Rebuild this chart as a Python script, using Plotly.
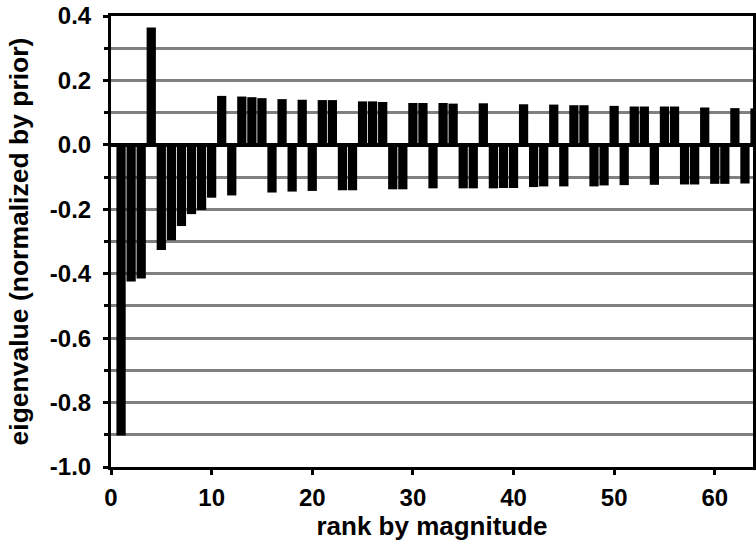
import plotly.graph_objects as go

ranks = list(range(1, 65))
eigenvalues = [
    -0.902, -0.424, -0.415, 0.364, -0.326, -0.296, -0.252, -0.215, -0.202, -0.164,
    0.152, -0.157, 0.150, 0.148, 0.145, -0.148, 0.142, -0.145, 0.140, -0.143,
    0.139, 0.139, -0.141, -0.141, 0.135, 0.135, 0.133, -0.138, -0.138, 0.130,
    0.130, -0.135, 0.130, 0.128, -0.135, -0.135, 0.129, -0.135, -0.134, -0.134,
    0.126, -0.131, -0.129, 0.125, -0.129, 0.123, 0.123, -0.129, -0.126, 0.121,
    -0.125, 0.119, 0.119, -0.124, 0.119, 0.119, -0.123, -0.123, 0.116, -0.121,
    -0.121, 0.114, -0.120, 0.113,
]
x_ticks = [0, 10, 20, 30, 40, 50, 60]
y_ticks = [0.4, 0.2, 0.0, -0.2, -0.4, -0.6, -0.8, -1.0]
y_tick_labels = ["0.4", "0.2", "0.0", "-0.2", "-0.4", "-0.6", "-0.8", "-1.0"]

FONT = "Liberation Sans, Arial, Helvetica, sans-serif"

fig = go.Figure(
    go.Bar(
        x=ranks,
        y=eigenvalues,
        marker=dict(color="black", line=dict(width=0)),
        width=0.92,
    )
)

fig.update_layout(
    width=756,
    height=548,
    margin=dict(l=111, r=3, t=16, b=81),
    paper_bgcolor="white",
    plot_bgcolor="white",
    showlegend=False,
    font=dict(family=FONT, color="black"),
)

fig.update_xaxes(
    range=[0, 63.8],
    automargin=False,
    tickmode="array",
    tickvals=x_ticks,
    ticktext=[str(v) for v in x_ticks],
    ticks="outside",
    ticklen=5,
    tickwidth=3,
    tickcolor="black",
    ticklabelstandoff=2,
    tickfont=dict(size=24, family=FONT, weight="bold"),
    showgrid=False,
    zeroline=False,
    showline=True,
    linewidth=3,
    linecolor="black",
    mirror=True,
    title=dict(text="rank by magnitude", font=dict(size=26, family=FONT, weight="bold"), standoff=7),
)

fig.update_yaxes(
    range=[-1.0, 0.4],
    automargin=False,
    tickmode="array",
    tickvals=y_ticks,
    ticktext=y_tick_labels,
    ticks="outside",
    ticklen=5,
    tickwidth=3,
    tickcolor="black",
    ticklabelstandoff=7,
    tickfont=dict(size=24, family=FONT, weight="bold"),
    showgrid=True,
    gridcolor="#808080",
    gridwidth=3,
    minor=dict(dtick=0.1, tick0=0, showgrid=True, gridcolor="#808080", gridwidth=3,
               ticks="outside", ticklen=4, tickwidth=3, tickcolor="black"),
    zeroline=True,
    zerolinecolor="black",
    zerolinewidth=4,
    showline=True,
    linewidth=3,
    linecolor="black",
    mirror=True,
    title=dict(text="eigenvalue (normalized by prior)", font=dict(size=26.5, family=FONT, weight="bold"), standoff=14),
)

fig.write_html(
    "out.html",
    config={"displayModeBar": False},
    post_script="document.body.style.margin='0';",
)
